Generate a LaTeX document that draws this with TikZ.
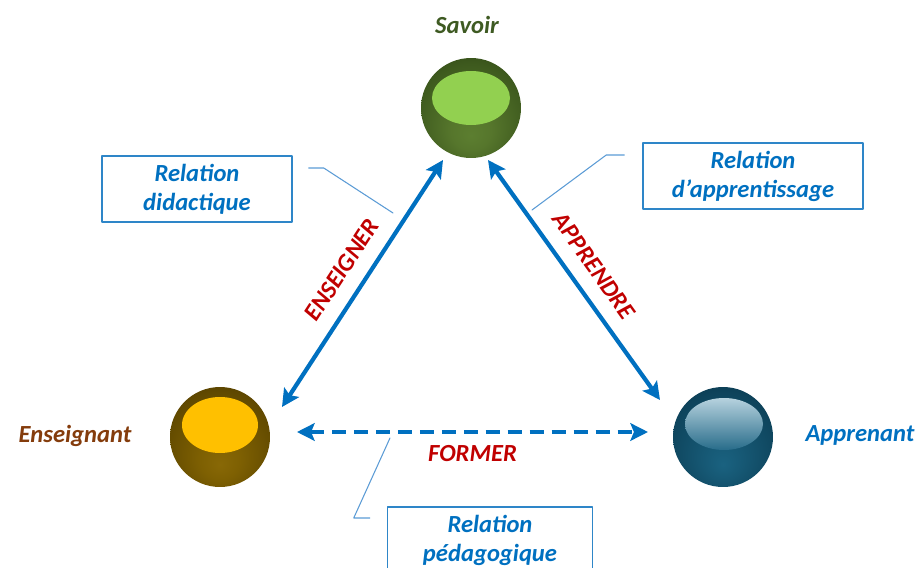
\documentclass[tikz,border=0pt]{standalone}
\usepackage{fontspec}
\setmainfont{Carlito}
\usetikzlibrary{arrows.meta,calc}
\definecolor{bleu}{RGB}{0,112,192}
\definecolor{cadrebleu}{RGB}{46,134,200}
\definecolor{filet}{RGB}{91,155,213}
\definecolor{rouge}{RGB}{192,0,0}
\definecolor{vert}{RGB}{62,90,34}
\definecolor{brun}{RGB}{132,60,12}
\definecolor{vertclair}{RGB}{146,208,80}
\definecolor{orclair}{RGB}{255,192,0}
\definecolor{bleuclair}{RGB}{182,210,222}
\definecolor{bleumoyen}{RGB}{40,108,138}
\pgfdeclareradialshading{boulevert}{\pgfpoint{0bp}{-14bp}}{color(0bp)=(rgb,255:red,92;green,126;blue,48); color(10bp)=(rgb,255:red,86;green,118;blue,44); color(28bp)=(rgb,255:red,62;green,90;blue,30); color(42bp)=(rgb,255:red,40;green,60;blue,16); color(50bp)=(rgb,255:red,32;green,50;blue,12)}
\pgfdeclareradialshading{bouleor}{\pgfpoint{0bp}{-14bp}}{color(0bp)=(rgb,255:red,136;green,104;blue,6); color(10bp)=(rgb,255:red,126;green,96;blue,2); color(28bp)=(rgb,255:red,98;green,74;blue,0); color(42bp)=(rgb,255:red,68;green,50;blue,0); color(50bp)=(rgb,255:red,56;green,42;blue,0)}
\pgfdeclareradialshading{boulebleu}{\pgfpoint{0bp}{-14bp}}{color(0bp)=(rgb,255:red,26;green,98;blue,128); color(10bp)=(rgb,255:red,22;green,88;blue,116); color(28bp)=(rgb,255:red,14;green,68;blue,92); color(42bp)=(rgb,255:red,6;green,46;blue,66); color(50bp)=(rgb,255:red,2;green,36;blue,54)}
\begin{document}
\begin{tikzpicture}[x=0.02cm, y=-0.02cm, line join=round, line cap=round,
	font=\fontsize{14}{16.5}\selectfont\bfseries\itshape,
	boule/.style={circle, minimum size=2cm, inner sep=0pt},
	cadre/.style={draw=cadrebleu, line width=0.9pt, text=bleu, align=center, minimum height=1.32cm, inner sep=2pt},
	fleche/.style={bleu, line width=2.4pt, {Stealth[length=10pt,width=10pt,inset=2pt]}-{Stealth[length=10pt,width=10pt,inset=2pt]}},
	rappel/.style={filet, line width=0.6pt},
	verbe/.style={text=rouge}]
	\clip (0,0) rectangle (924,568);
	% les trois boules
	\node[boule, shading=boulevert] (savoir) at (471,108) {};
	\node[boule, shading=bouleor] (enseignant) at (220,437) {};
	\node[boule, shading=boulebleu] (apprenant) at (723,437) {};
	\fill[vertclair] ($(savoir)+(0,-10)$) ellipse (39 and 27);
	\fill[orclair] ($(enseignant)+(0,-12)$) ellipse (38 and 28);
	\shade[top color=bleuclair, bottom color=bleumoyen] ($(apprenant)+(1,-13)$) ellipse (39 and 26);
	\node[text=vert] at (467,25) {Savoir};
	\node[text=brun] at (75,436) {Enseignant};
	\node[text=bleu] at (860,435) {Apprenant};
	% les relations
	\draw[fleche] ($(enseignant)+(62,-30)$) -- ($(savoir)+(-28,52)$) node[verbe, midway, sloped, above=5pt]{ENSEIGNER};
	\draw[fleche] ($(savoir)+(17,52)$) -- ($(apprenant)+(-63,-37)$) node[verbe, midway, sloped, above=5pt]{APPRENDRE};
	\draw[fleche, line cap=butt, dash pattern=on 8pt off 4.5pt] ($(enseignant)+(77,-5)$) -- ($(apprenant)+(-75,-5)$) node[verbe, midway, below=3pt]{FORMER};
	% les cadres
	\node[cadre, minimum width=3.8cm] (didactique) at (197,189) {Relation\\didactique};
	\node[cadre, minimum width=4.4cm] (apprentissage) at (753,176) {Relation\\d’apprentissage};
	\node[cadre, minimum width=4.1cm] (pedagogique) at (490,540) {Relation\\pédagogique};
	\coordinate (r1) at (393,213);
	\coordinate (r2) at (532,210);
	\coordinate (r3) at (390,438);
	\draw[rappel] ($(didactique.east)+(16,-21)$) -- ++(15,0) -- (r1);
	\draw[rappel] ($(apprentissage.west)+(-18,-21)$) -- ++(-18,0) -- (r2);
	\draw[rappel] ($(pedagogique.west)+(-17,-22)$) -- ++(-16,0) -- (r3);
\end{tikzpicture}
\end{document}
